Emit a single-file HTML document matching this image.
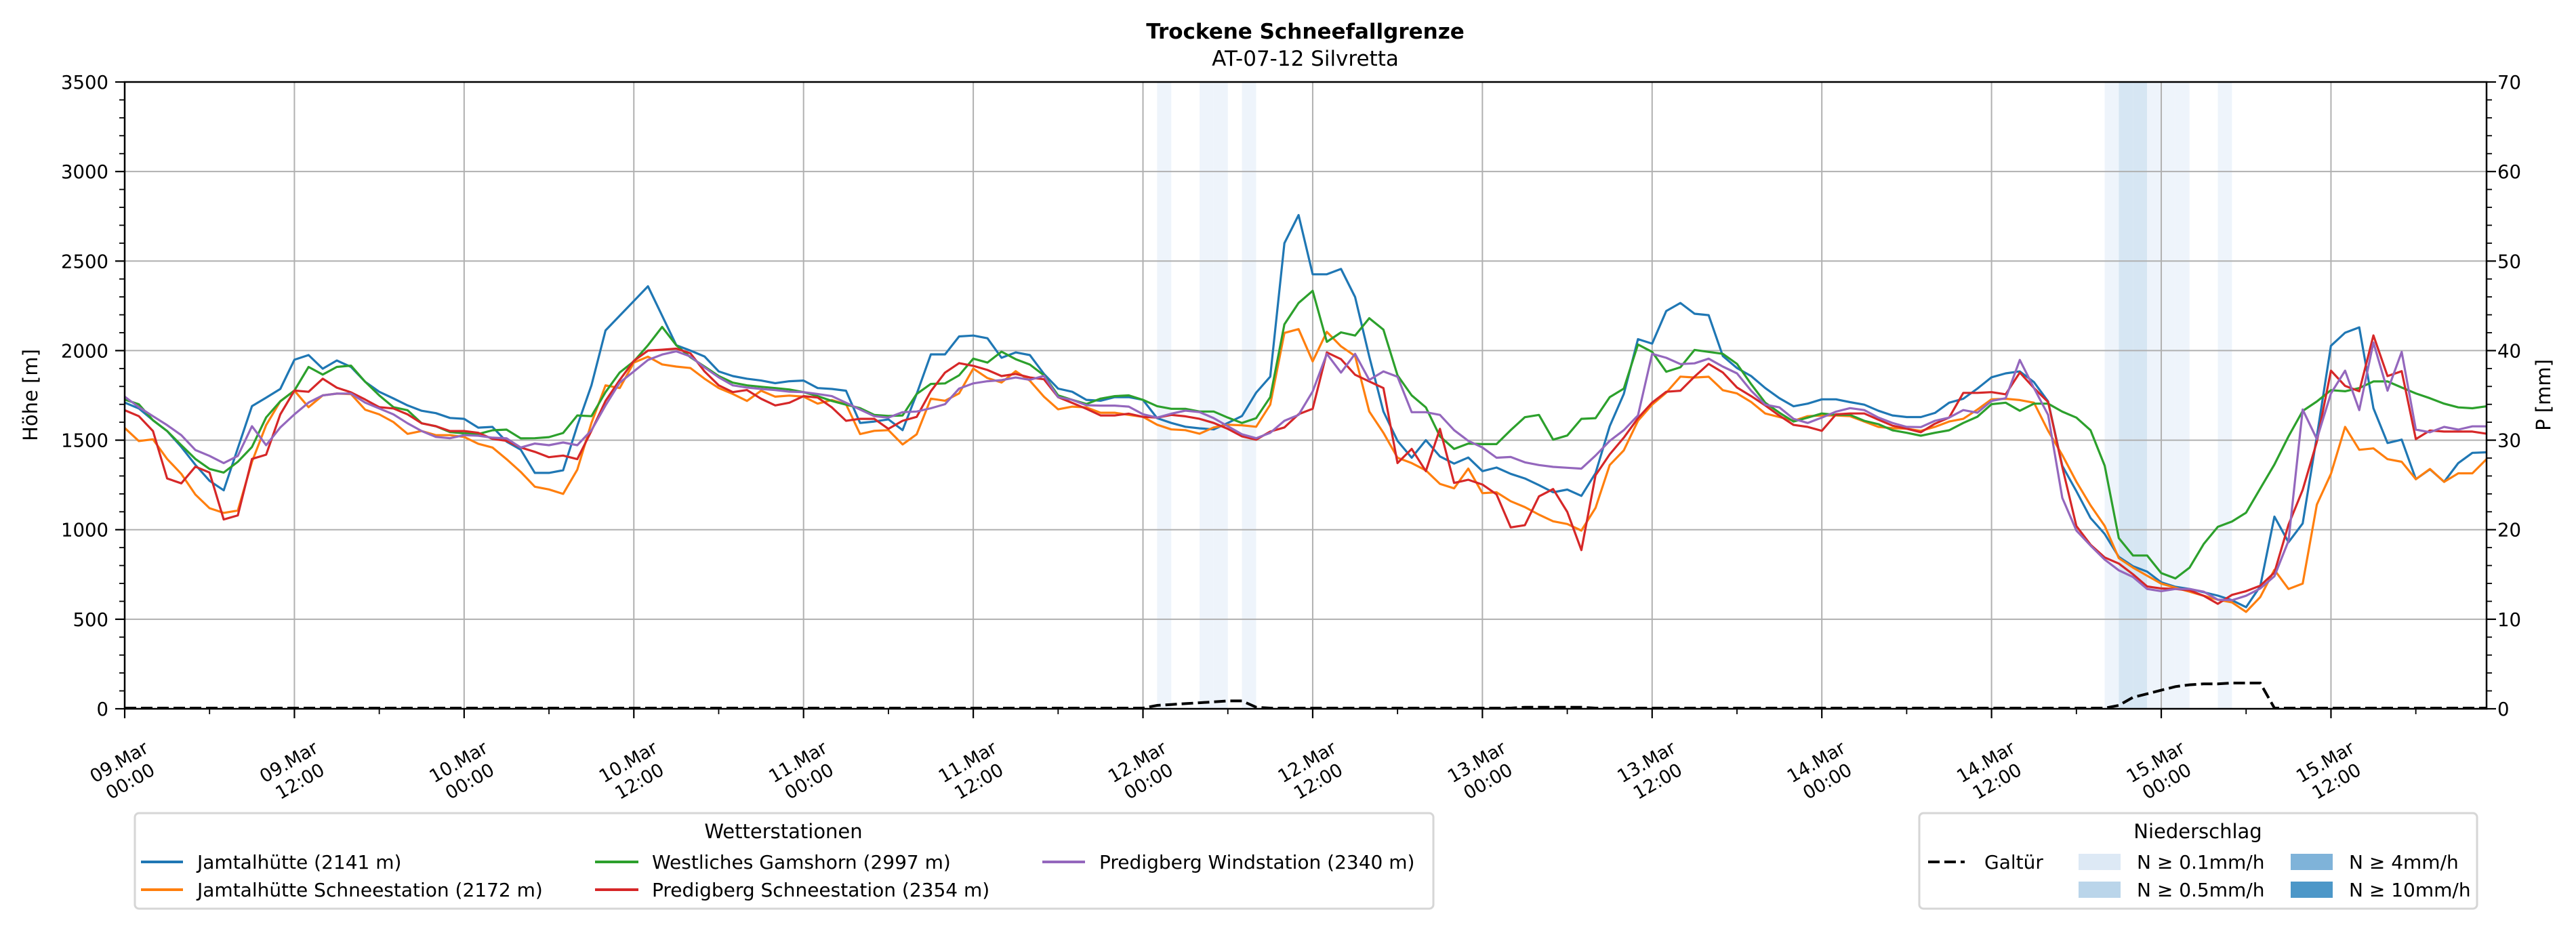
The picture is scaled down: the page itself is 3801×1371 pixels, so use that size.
<!DOCTYPE html>
<html><head><meta charset="utf-8"><style>
html,body{margin:0;padding:0;background:#fff;}
svg{display:block;font-family:"DejaVu Sans","Liberation Sans",sans-serif;}
</style></head><body>
<svg id="chart" width="3801" height="1371" viewBox="0 0 3801 1371" xmlns="http://www.w3.org/2000/svg">
<rect width="3801" height="1371" fill="#fff"/>
<text x="1926" y="57" text-anchor="middle" font-size="31" font-weight="bold">Trockene Schneefallgrenze</text>
<text x="1926" y="97" text-anchor="middle" font-size="31">AT-07-12 Silvretta</text>
<g id="bands"></g>
<g id="grid"></g>
<g id="series"></g>
<g id="axes"></g>
<text transform="translate(55,583) rotate(-90)" text-anchor="middle" font-size="29">Höhe [m]</text>
<text transform="translate(3763,583) rotate(-90)" text-anchor="middle" font-size="29">P [mm]</text>

<g>
<rect x="199" y="1200" width="1916" height="141" rx="6" fill="#fff" stroke="#d6d6d6" stroke-width="3"/>
<text x="1156" y="1237" text-anchor="middle" font-size="29">Wetterstationen</text>
<g><line x1="208" y1="1272" x2="270" y2="1272" stroke="#1f77b4" stroke-width="4"/><text x="291" y="1282" font-size="28">Jamtalhütte (2141 m)</text></g>
<g><line x1="208" y1="1313" x2="270" y2="1313" stroke="#ff7f0e" stroke-width="4"/><text x="291" y="1323" font-size="28">Jamtalhütte Schneestation (2172 m)</text></g>
<g><line x1="878" y1="1272" x2="942" y2="1272" stroke="#2ca02c" stroke-width="4"/><text x="962" y="1282" font-size="28">Westliches Gamshorn (2997 m)</text></g>
<g><line x1="878" y1="1313" x2="942" y2="1313" stroke="#d62728" stroke-width="4"/><text x="962" y="1323" font-size="28">Predigberg Schneestation (2354 m)</text></g>
<g><line x1="1538" y1="1272" x2="1601" y2="1272" stroke="#9467bd" stroke-width="4"/><text x="1622" y="1282" font-size="28">Predigberg Windstation (2340 m)</text></g>
</g>

<g>
<rect x="2832" y="1200" width="823" height="141" rx="6" fill="#fff" stroke="#d6d6d6" stroke-width="3"/>
<text x="3243" y="1237" text-anchor="middle" font-size="29">Niederschlag</text>
<g><line x1="2845" y1="1272" x2="2899" y2="1272" stroke="#000" stroke-width="4" stroke-dasharray="17,7"/><text x="2928" y="1282" font-size="28">Galtür</text></g>
<g><rect x="3067" y="1260" width="62" height="24" fill="#dde9f5"/><text x="3153" y="1282" font-size="28">N ≥ 0.1mm/h</text></g>
<g><rect x="3067" y="1301" width="62" height="24" fill="#bad5ea"/><text x="3153" y="1323" font-size="28">N ≥ 0.5mm/h</text></g>
<g><rect x="3380" y="1260" width="62" height="24" fill="#7fb3d9"/><text x="3466" y="1282" font-size="28">N ≥ 4mm/h</text></g>
<g><rect x="3380" y="1301" width="62" height="24" fill="#4c97c8"/><text x="3466" y="1323" font-size="28">N ≥ 10mm/h</text></g>
</g>
</svg>
<script>
const jamtal = [1710,1677,1611,1551,1462,1362,1273,1220,1455,1690,1737,1786,1949,1975,1899,1945,1909,1826,1770,1733,1694,1664,1651,1624,1619,
1570,1574,1492,1447,1317,1317,1332,1580,1806,2113,2195,2277,2359,2195,2030,2000,1967,1884,1858,1843,1833,1818,1829,1833,1791,1786,1776,1596,1604,
1616,1556,1758,1979,1979,2079,2084,2069,1960,1990,1975,1870,1788,1770,1725,1720,1740,1740,1725,1623,1596,1575,1566,1560,1596,1635,1765,1855,2600,
2757,2426,2426,2456,2299,1967,1660,1496,1402,1500,1409,1369,1403,1327,1347,1312,1286,1249,1209,1224,1189,1316,1578,1758,2064,2039,2221,2266,2206,
2198,1970,1903,1858,1791,1734,1689,1704,1728,1728,1712,1698,1664,1638,1629,1629,1652,1709,1731,1788,1851,1873,1884,1824,1716,1357,1215,1065,976,
848,796,766,706,681,669,651,632,606,567,684,1073,930,1035,1521,2027,2100,2130,1678,1484,1503,1282,1337,1267,1372,1429,1432];
const jamtalSchnee = [1568,1495,1505,1395,1312,1196,1120,1094,1107,1379,1584,1717,1777,1684,1750,1760,1757,1670,1644,1601,1535,1551,1528,1528,1518,
1480,1459,1394,1323,1240,1225,1200,1335,1596,1806,1791,1933,1966,1923,1911,1903,1843,1791,1758,1719,1776,1743,1749,1743,1704,1724,1701,1534,1552,
1556,1476,1533,1732,1720,1761,1900,1847,1822,1885,1832,1743,1672,1687,1683,1653,1653,1641,1630,1586,1560,1556,1536,1571,1586,1583,1575,1698,2099,
2120,1940,2105,2024,1970,1660,1541,1402,1372,1331,1256,1231,1341,1204,1209,1159,1126,1084,1047,1032,995,1122,1361,1443,1608,1698,1765,1855,1850,
1854,1779,1761,1713,1649,1629,1608,1634,1638,1638,1634,1604,1574,1567,1564,1552,1574,1604,1619,1671,1728,1731,1724,1709,1552,1417,1268,1136,1021,
841,788,743,699,676,654,631,609,594,541,624,776,669,699,1140,1312,1574,1446,1454,1394,1379,1282,1339,1267,1315,1315,1394];
const gamshorn = [1727,1700,1611,1551,1472,1395,1339,1319,1379,1462,1627,1717,1777,1909,1866,1909,1916,1826,1750,1684,1667,1594,1578,1545,1538,
1534,1555,1559,1510,1511,1517,1540,1638,1634,1768,1878,1940,2030,2132,2030,1963,1911,1858,1821,1806,1798,1791,1783,1768,1746,1719,1698,1679,1641,
1635,1638,1758,1814,1817,1862,1955,1933,1994,1952,1922,1862,1750,1725,1702,1732,1746,1750,1725,1690,1675,1675,1660,1660,1626,1596,1623,1740,2147,
2266,2334,2049,2102,2084,2181,2117,1862,1750,1683,1521,1451,1481,1478,1478,1556,1628,1641,1503,1526,1619,1623,1740,1788,2034,1993,1882,1907,2004,
1993,1982,1926,1813,1709,1653,1604,1626,1649,1641,1641,1608,1589,1555,1541,1525,1541,1555,1596,1631,1701,1709,1664,1704,1704,1659,1626,1555,1357,
953,856,856,758,728,788,920,1016,1046,1095,1230,1364,1521,1663,1716,1779,1773,1791,1828,1828,1794,1761,1734,1704,1683,1678,1689];
const predigSchnee = [1667,1634,1551,1286,1259,1352,1319,1057,1080,1395,1419,1644,1777,1770,1843,1793,1767,1727,1684,1677,1644,1594,1578,1551,1551,
1541,1507,1496,1459,1435,1405,1414,1394,1552,1719,1836,1943,2000,2005,2011,1985,1884,1806,1768,1780,1731,1694,1709,1746,1738,1683,1608,1619,1619,
1563,1608,1630,1773,1877,1930,1915,1892,1858,1870,1850,1840,1740,1708,1675,1638,1638,1648,1630,1626,1641,1633,1619,1596,1563,1521,1503,1548,1571,
1645,1675,1990,1952,1865,1828,1791,1372,1451,1327,1563,1261,1279,1252,1197,1013,1025,1186,1227,1099,886,1304,1421,1514,1623,1710,1770,1776,1855,
1926,1878,1794,1746,1694,1637,1585,1574,1552,1644,1649,1649,1614,1581,1564,1544,1592,1626,1764,1764,1768,1756,1878,1791,1713,1350,1020,916,845,
811,751,683,672,669,661,631,586,636,657,687,761,1028,1222,1491,1888,1803,1773,2085,1858,1885,1506,1554,1548,1548,1548,1536];
const predigWind = [1743,1684,1634,1584,1528,1445,1412,1372,1412,1578,1472,1571,1644,1710,1750,1760,1760,1710,1677,1644,1594,1551,1518,1511,1528,
1525,1514,1510,1459,1481,1472,1487,1472,1555,1694,1821,1884,1948,1978,1996,1967,1906,1851,1806,1794,1786,1780,1771,1768,1758,1746,1709,1671,1634,
1626,1656,1660,1678,1701,1788,1817,1829,1835,1850,1837,1859,1740,1725,1695,1693,1693,1687,1645,1626,1648,1665,1657,1623,1578,1533,1511,1541,1608,
1641,1772,1982,1877,1982,1836,1884,1854,1656,1656,1641,1556,1496,1459,1402,1406,1376,1361,1351,1346,1341,1414,1496,1556,1638,1982,1960,1925,1929,
1955,1911,1873,1776,1698,1683,1619,1596,1626,1659,1679,1668,1626,1596,1574,1573,1608,1626,1668,1653,1719,1734,1948,1791,1641,1178,995,911,833,
773,736,669,657,669,669,654,609,606,631,672,740,938,1671,1506,1761,1888,1668,2045,1776,1993,1559,1544,1574,1559,1577,1577];
const precipHours = [73,74,75,76,77,78,79,80,99,100,101,102,103,141,142,143,144,145,146,147,148,149,150,151];
const precipValues = [0.3,0.4,0.5,0.6,0.7,0.8,0.8,0.1,0.1,0.1,0.1,0.1,0.1,0.3,1.2,1.6,2.0,2.4,2.6,2.7,2.7,2.8,2.8,2.8];
const bandHours = [73,76,77,79,140,141,142,143,144,145,148];
const bandLevels = [1,1,1,1,1,2,2,1,1,1,1];
const yTicks = [0,500,1000,1500,2000,2500,3000,3500];
const pTicks = [0,10,20,30,40,50,60,70];
const xTickDays = ["09.Mar","09.Mar","10.Mar","10.Mar","11.Mar","11.Mar","12.Mar","12.Mar","13.Mar","13.Mar","14.Mar","14.Mar","15.Mar","15.Mar"];
const xTickTimes = ["00:00","12:00","00:00","12:00","00:00","12:00","00:00","12:00","00:00","12:00","00:00","12:00","00:00","12:00"];

const NS="http://www.w3.org/2000/svg";
const L=184,R=3669,T=121,B=1046,NH=167;
const x=h=>L+h*(R-L)/NH;
const y=v=>B-v*(B-T)/3500;
const yP=p=>B-p*(B-T)/70;
function mk(tag,attrs,parent){const e=document.createElementNS(NS,tag);for(const k in attrs)e.setAttribute(k,attrs[k]);parent.appendChild(e);return e;}
const gB=document.getElementById('bands'),gG=document.getElementById('grid'),gS=document.getElementById('series'),gA=document.getElementById('axes');
const bandColors={1:"#eef4fb",2:"#d6e6f3"};
bandHours.forEach((h,i)=>{const r=mk('rect',{x:x(h),y:T,width:x(h+1)-x(h),height:B-T,fill:bandColors[bandLevels[i]]},gB);

});
// grid
yTicks.forEach(v=>{const l=mk('line',{x1:L,x2:R,y1:y(v),y2:y(v),stroke:"#b0b0b0","stroke-width":2},gG);

});
xTickDays.forEach((d,i)=>{const h=i*12;const l=mk('line',{x1:x(h),x2:x(h),y1:T,y2:B,stroke:"#b0b0b0","stroke-width":2},gG);

});
// series
const series=[[jamtal,"#1f77b4","line-jamtal"],[jamtalSchnee,"#ff7f0e","line-jamtal-schnee"],[gamshorn,"#2ca02c","line-gamshorn"],[predigSchnee,"#d62728","line-predigberg-schnee"],[predigWind,"#9467bd","line-predigberg-wind"]];
series.forEach(([arr,c,n])=>{const d=arr.map((v,h)=>(h?'L':'M')+x(h).toFixed(1)+','+y(v).toFixed(1)).join('');
const p=mk('path',{d:d,fill:"none",stroke:c,"stroke-width":3.2,"stroke-linejoin":"round"},gS);

});
// precipitation
const pv=[];for(let h=0;h<=NH;h++){const k=precipHours.indexOf(h);pv.push(k>=0?precipValues[k]:0);}
const pd=pv.map((v,h)=>(h?'L':'M')+x(h).toFixed(1)+','+(yP(v)-1).toFixed(1)).join('');
const pp=mk('path',{d:pd,fill:"none",stroke:"#000","stroke-width":4,"stroke-dasharray":"17,7"},gS);


// axes frame
const fr=mk('rect',{x:L,y:T,width:R-L,height:B-T,fill:"none",stroke:"#000","stroke-width":2.5},gA);


for(let v=0;v<=3500;v+=100){const maj=v%500===0;mk('line',{x1:L,x2:L-(maj?14:8),y1:y(v),y2:y(v),stroke:"#000","stroke-width":maj?2.2:1.8},gA);}
yTicks.forEach(v=>{const t=mk('text',{x:L-24,y:y(v)+10,"text-anchor":"end","font-size":27.5},gA);t.textContent=v;

});
for(let p=0;p<=70;p+=2){const maj=p%10===0;mk('line',{x1:R,x2:R+(maj?14:8),y1:yP(p),y2:yP(p),stroke:"#000","stroke-width":maj?2.2:1.8},gA);}
pTicks.forEach(p=>{const t=mk('text',{x:R+16,y:yP(p)+10,"font-size":27.5},gA);t.textContent=p;

});
for(let h=0;h<=NH;h+=6){const maj=h%12===0;mk('line',{x1:x(h),x2:x(h),y1:B,y2:B+(maj?14:8),stroke:"#000","stroke-width":maj?2.2:1.8},gA);}
xTickDays.forEach((d,i)=>{const h=i*12;const g=mk('g',{transform:`translate(${x(h)+37},1109) rotate(-30)`},gA);


const t1=mk('text',{x:-47,y:0,"text-anchor":"middle","font-size":27},g);t1.textContent=d;
const t2=mk('text',{x:-47,y:33,"text-anchor":"middle","font-size":27},g);t2.textContent=xTickTimes[i];});
</script>
</body></html>
